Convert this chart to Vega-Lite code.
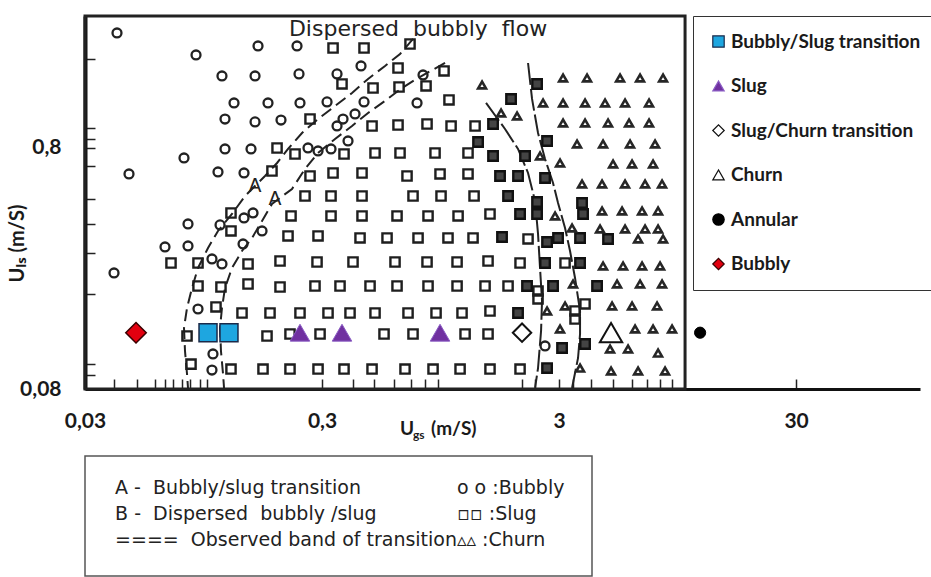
{
  "$schema": "https://vega.github.io/schema/vega-lite/v6.json",
  "autosize": {"type": "pad"},
  "padding": {"left": 7, "top": 14, "right": 0, "bottom": 0},
  "background": "white",
  "bounds": "flush",
  "spacing": 67,
  "config": {"view": {"stroke": null}},
  "datasets": {
    "circles": [{"ugs":0.04094,"uls":2.401},{"ugs":0.08821,"uls":1.945},{"ugs":0.1611,"uls":2.12},{"ugs":0.2353,"uls":2.12},{"ugs":0.1135,"uls":1.592},{"ugs":0.1565,"uls":1.592},{"ugs":0.2399,"uls":1.623},{"ugs":0.1276,"uls":1.23},{"ugs":0.1775,"uls":1.23},{"ugs":0.2422,"uls":1.23},{"ugs":0.315,"uls":1.242},{"ugs":0.1169,"uls":1.055},{"ugs":0.1565,"uls":1.026},{"ugs":0.2014,"uls":1.045},{"ugs":0.1169,"uls":0.7924},{"ugs":0.1505,"uls":0.7924},{"ugs":0.07849,"uls":0.7272},{"ugs":0.046,"uls":0.6242},{"ugs":0.1092,"uls":0.6362},{"ugs":0.1406,"uls":0.6301},{"ugs":0.4382,"uls":1.751},{"ugs":0.3471,"uls":1.623},{"ugs":0.4512,"uls":1.242},{"ugs":0.7551,"uls":1.23},{"ugs":0.4134,"uls":1.107},{"ugs":0.3679,"uls":1.055},{"ugs":0.3471,"uls":0.9872},{"ugs":0.3862,"uls":0.8554},{"ugs":0.2618,"uls":0.8001},{"ugs":0.2886,"uls":0.7775},{"ugs":0.3274,"uls":0.7924},{"ugs":0.8004,"uls":1.607},{"ugs":0.03977,"uls":0.2424},{"ugs":0.0816,"uls":0.3871},{"ugs":0.06526,"uls":0.3108},{"ugs":0.0816,"uls":0.3137},{"ugs":0.103,"uls":0.2771},{"ugs":0.1135,"uls":0.2641},{"ugs":0.1114,"uls":0.3835},{"ugs":0.1406,"uls":0.4099},{"ugs":0.1535,"uls":0.43},{"ugs":0.1393,"uls":0.3198},{"ugs":0.1675,"uls":0.3621},{"ugs":0.08993,"uls":0.1718},{"ugs":0.104,"uls":0.1118},{"ugs":0.103,"uls":0.0959},{"ugs":2.6185,"uls":0.1207}],
    "squares": [{"ugs":0.3339,"uls":2.08},{"ugs":0.4512,"uls":2.08},{"ugs":0.7053,"uls":2.161},
      {"ugs":0.6277,"uls":1.718},{"ugs":0.9815,"uls":1.67},
      {"ugs":0.3643,"uls":1.475},{"ugs":0.4924,"uls":1.419},{"ugs":0.6339,"uls":1.433},{"ugs":0.8241,"uls":1.447},
      {"ugs":1.03,"uls":1.266},
      {"ugs":0.267,"uls":1.055},{"ugs":0.4877,"uls":0.9872},{"ugs":0.6277,"uls":0.9967},{"ugs":0.8321,"uls":1.006},{"ugs":1.051,"uls":0.9872},{"ugs":1.327,"uls":0.9872},
      {"ugs":0.1938,"uls":0.8001},{"ugs":0.2308,"uls":0.7555},{"ugs":0.3715,"uls":0.7555},{"ugs":0.5021,"uls":0.7628},{"ugs":0.6401,"uls":0.7628},{"ugs":0.8994,"uls":0.7628},{"ugs":1.239,"uls":0.7628},
      {"ugs":0.1845,"uls":0.6423},{"ugs":0.267,"uls":0.6123},{"ugs":0.3339,"uls":0.6301},{"ugs":0.4425,"uls":0.6301},{"ugs":0.6851,"uls":0.6123},{"ugs":0.9441,"uls":0.6242},{"ugs":1.239,"uls":0.6242},
      {"ugs":0.2543,"uls":0.5058},{"ugs":0.3274,"uls":0.5058},{"ugs":0.4425,"uls":0.5058},{"ugs":0.7262,"uls":0.5058},{"ugs":0.9533,"uls":0.5058},{"ugs":1.314,"uls":0.5058},
      {"ugs":0.1239,"uls":0.43},{"ugs":0.222,"uls":0.4179},{"ugs":0.3274,"uls":0.4179},{"ugs":0.4425,"uls":0.4179},{"ugs":0.6217,"uls":0.4179},{"ugs":0.8402,"uls":0.4179},{"ugs":1.125,"uls":0.4179},{"ugs":1.534,"uls":0.4259},
      {"ugs":0.1239,"uls":0.3621},{"ugs":0.2156,"uls":0.3452},{"ugs":0.2886,"uls":0.3452},{"ugs":0.434,"uls":0.3387},{"ugs":0.5642,"uls":0.3387},{"ugs":0.7625,"uls":0.3387},{"ugs":1.02,"uls":0.3387},{"ugs":1.301,"uls":0.3387},{"ugs":2.22,"uls":0.3355},
      {"ugs":0.06918,"uls":0.2667},{"ugs":0.08993,"uls":0.2667},{"ugs":0.1462,"uls":0.2641},{"ugs":0.1995,"uls":0.2718},{"ugs":0.2858,"uls":0.2692},{"ugs":0.4054,"uls":0.2692},{"ugs":0.6097,"uls":0.2692},{"ugs":0.8321,"uls":0.2692},{"ugs":1.114,"uls":0.2692},{"ugs":1.505,"uls":0.2718},{"ugs":2.054,"uls":0.2667},{"ugs":3.18,"uls":0.2667},
      {"ugs":0.08993,"uls":0.214},{"ugs":0.1124,"uls":0.212},{"ugs":0.1462,"uls":0.2182},{"ugs":0.1995,"uls":0.212},{"ugs":0.2802,"uls":0.214},{"ugs":0.3573,"uls":0.214},{"ugs":0.4783,"uls":0.214},{"ugs":0.6217,"uls":0.214},{"ugs":0.8402,"uls":0.214},{"ugs":1.114,"uls":0.214},{"ugs":1.462,"uls":0.214},{"ugs":1.828,"uls":0.214},{"ugs":2.446,"uls":0.2041},{"ugs":2.446,"uls":0.1891},
      {"ugs":0.1071,"uls":0.1752},{"ugs":0.1379,"uls":0.1654},{"ugs":0.181,"uls":0.1654},{"ugs":0.2422,"uls":0.1654},{"ugs":0.318,"uls":0.1654},{"ugs":0.3938,"uls":0.1654},{"ugs":0.5021,"uls":0.1654},{"ugs":0.6918,"uls":0.1654},{"ugs":0.9082,"uls":0.1654},{"ugs":1.169,"uls":0.1654},{"ugs":1.534,"uls":0.1686},{"ugs":3.504,"uls":0.1686},{"ugs":3.504,"uls":0.1561},{"ugs":3.862,"uls":0.1803},
      {"ugs":0.08082,"uls":0.1327},{"ugs":0.1758,"uls":0.1327},{"ugs":0.2198,"uls":0.1353},{"ugs":0.2943,"uls":0.1353},{"ugs":0.5479,"uls":0.1353},{"ugs":0.7262,"uls":0.1353},{"ugs":1.204,"uls":0.1353},{"ugs":1.505,"uls":0.1353},
      {"ugs":0.08402,"uls":0.1015},{"ugs":0.1239,"uls":0.0968},{"ugs":0.1691,"uls":0.0968},{"ugs":0.2198,"uls":0.0968},{"ugs":0.2886,"uls":0.0968},{"ugs":0.3715,"uls":0.0968},{"ugs":0.4877,"uls":0.0968},{"ugs":0.6719,"uls":0.0968},{"ugs":0.8821,"uls":0.0968},{"ugs":1.147,"uls":0.0968},{"ugs":1.534,"uls":0.0968},{"ugs":2.054,"uls":0.0968}],
    "dense": [{"ugs":1.366,"uls":0.8473},{"ugs":2.423,"uls":1.475},{"ugs":1.882,"uls":1.278},{"ugs":1.58,"uls":1.006},{"ugs":2.67,"uls":0.8554},{"ugs":1.58,"uls":0.7412},{"ugs":2.156,"uls":0.7412},{"ugs":1.691,"uls":0.6123},{"ugs":2.014,"uls":0.6123},{"ugs":2.6185,"uls":0.6007},{"ugs":1.828,"uls":0.5058},{"ugs":2.423,"uls":0.4776},{"ugs":3.751,"uls":0.4731},{"ugs":2.054,"uls":0.4259},{"ugs":2.423,"uls":0.4259},{"ugs":3.788,"uls":0.4259},{"ugs":1.724,"uls":0.3419},{"ugs":2.67,"uls":0.326},{"ugs":2.971,"uls":0.3387},{"ugs":3.679,"uls":0.3387},{"ugs":4.829,"uls":0.3355},{"ugs":2.6185,"uls":0.2667},{"ugs":3.679,"uls":0.2667},{"ugs":2.198,"uls":0.214},{"ugs":2.83,"uls":0.214},{"ugs":4.34,"uls":0.214},{"ugs":2.014,"uls":0.1654},{"ugs":3.089,"uls":0.1184},{"ugs":3.862,"uls":0.123},{"ugs":2.67,"uls":0.0977}],
    "triangles": [{"ugs":3.119,"uls":1.562},{"ugs":3.938,"uls":1.562},{"ugs":5.426,"uls":1.562},{"ugs":6.59,"uls":1.562},{"ugs":8.24,"uls":1.562},
      {"ugs":1.42,"uls":1.461},
      {"ugs":2.568,"uls":1.23},{"ugs":3.119,"uls":1.23},{"ugs":3.862,"uls":1.23},{"ugs":4.69,"uls":1.23},{"ugs":5.696,"uls":1.23},{"ugs":7.192,"uls":1.23},
      {"ugs":1.708,"uls":1.118},{"ugs":1.995,"uls":1.086},
      {"ugs":3.119,"uls":1.016},{"ugs":3.862,"uls":1.016},{"ugs":4.829,"uls":1.016},{"ugs":5.922,"uls":1.016},{"ugs":7.192,"uls":1.016},
      {"ugs":3.573,"uls":0.8312},{"ugs":4.6,"uls":0.8312},{"ugs":5.98,"uls":0.8312},{"ugs":7.624,"uls":0.8312},
      {"ugs":2.494,"uls":0.7412},{"ugs":3.029,"uls":0.6932},{"ugs":5.07,"uls":0.6866},{"ugs":6.097,"uls":0.6866},{"ugs":7.477,"uls":0.6866},
      {"ugs":3.751,"uls":0.5673},{"ugs":4.556,"uls":0.5673},{"ugs":5.696,"uls":0.5673},{"ugs":6.918,"uls":0.5673},{"ugs":8.161,"uls":0.5673},
      {"ugs":4.556,"uls":0.4383},{"ugs":5.533,"uls":0.4383},{"ugs":6.72,"uls":0.4383},{"ugs":7.85,"uls":0.4383},{"ugs":2.886,"uls":0.4179},
      {"ugs":3.404,"uls":0.3726},{"ugs":4.468,"uls":0.3691},{"ugs":5.696,"uls":0.3691},{"ugs":6.918,"uls":0.3691},{"ugs":7.85,"uls":0.3691},
      {"ugs":6.464,"uls":0.3355},{"ugs":8.24,"uls":0.3355},
      {"ugs":4.6,"uls":0.2591},{"ugs":5.587,"uls":0.2591},{"ugs":6.72,"uls":0.2591},{"ugs":8.004,"uls":0.2591},
      {"ugs":3.437,"uls":0.2182},{"ugs":5.271,"uls":0.2182},{"ugs":6.59,"uls":0.2182},{"ugs":8.161,"uls":0.2182},
      {"ugs":3.18,"uls":0.1768},{"ugs":5.021,"uls":0.1768},{"ugs":6.097,"uls":0.1768},{"ugs":7.774,"uls":0.1768},{"ugs":2.67,"uls":0.1686},
      {"ugs":3.029,"uls":0.1419},{"ugs":6.278,"uls":0.1419},{"ugs":7.477,"uls":0.1419},{"ugs":8.993,"uls":0.1419},
      {"ugs":4.924,"uls":0.1173},{"ugs":5.865,"uls":0.1173},{"ugs":7.85,"uls":0.1128},
      {"ugs":3.679,"uls":0.0977},{"ugs":4.972,"uls":0.095},{"ugs":6.464,"uls":0.095},{"ugs":8.402,"uls":0.095}],
    "bands": [
      {"curve":"B1","i":0,"ugs":0.7262,"uls":2.267},{"curve":"B1","i":1,"ugs":0.6401,"uls":1.964},{"curve":"B1","i":2,"ugs":0.5533,"uls":1.751},{"curve":"B1","i":3,"ugs":0.4691,"uls":1.547},{"curve":"B1","i":4,"ugs":0.4015,"uls":1.353},{"curve":"B1","i":5,"ugs":0.3404,"uls":1.195},{"curve":"B1","i":6,"ugs":0.2886,"uls":1.055},{"curve":"B1","i":7,"ugs":0.247,"uls":0.9233},{"curve":"B1","i":8,"ugs":0.2156,"uls":0.7924},{"curve":"B1","i":9,"ugs":0.1938,"uls":0.6932},{"curve":"B1","i":10,"ugs":0.1724,"uls":0.6123},{"curve":"B1","i":11,"ugs":0.142,"uls":0.5058},{"curve":"B1","i":12,"ugs":0.1251,"uls":0.4259},{"curve":"B1","i":13,"ugs":0.1092,"uls":0.3621},{"curve":"B1","i":14,"ugs":0.09911,"uls":0.3078},{"curve":"B1","i":15,"ugs":0.08993,"uls":0.2542},{"curve":"B1","i":16,"ugs":0.08484,"uls":0.21},{"curve":"B1","i":17,"ugs":0.08082,"uls":0.1735},{"curve":"B1","i":18,"ugs":0.07849,"uls":0.1433},{"curve":"B1","i":19,"ugs":0.07926,"uls":0.115},{"curve":"B1","i":20,"ugs":0.08082,"uls":0.0923},{"curve":"B1","i":21,"ugs":0.0816,"uls":0.0808},
      {"curve":"B2","i":0,"ugs":0.9911,"uls":1.802},{"curve":"B2","i":1,"ugs":0.7625,"uls":1.562},{"curve":"B2","i":2,"ugs":0.6526,"uls":1.419},{"curve":"B2","i":3,"ugs":0.5533,"uls":1.254},{"curve":"B2","i":4,"ugs":0.4691,"uls":1.118},{"curve":"B2","i":5,"ugs":0.4015,"uls":0.9872},{"curve":"B2","i":6,"ugs":0.3404,"uls":0.8718},{"curve":"B2","i":7,"ugs":0.2886,"uls":0.7628},{"curve":"B2","i":8,"ugs":0.2543,"uls":0.6546},{"curve":"B2","i":9,"ugs":0.2241,"uls":0.5408},{"curve":"B2","i":10,"ugs":0.1845,"uls":0.4686},{"curve":"B2","i":11,"ugs":0.1675,"uls":0.3984},{"curve":"B2","i":12,"ugs":0.152,"uls":0.3387},{"curve":"B2","i":13,"ugs":0.1379,"uls":0.2991},{"curve":"B2","i":14,"ugs":0.1251,"uls":0.2542},{"curve":"B2","i":15,"ugs":0.1169,"uls":0.21},{"curve":"B2","i":16,"ugs":0.1135,"uls":0.1735},{"curve":"B2","i":17,"ugs":0.1114,"uls":0.1433},{"curve":"B2","i":18,"ugs":0.1124,"uls":0.115},{"curve":"B2","i":19,"ugs":0.1147,"uls":0.0923},{"curve":"B2","i":20,"ugs":0.1158,"uls":0.0808},
      {"curve":"B3","i":0,"ugs":1.476,"uls":1.23},{"curve":"B3","i":1,"ugs":1.775,"uls":0.9593},{"curve":"B3","i":2,"ugs":2.014,"uls":0.7924},{"curve":"B3","i":3,"ugs":2.22,"uls":0.6301},{"curve":"B3","i":4,"ugs":2.376,"uls":0.4822},{"curve":"B3","i":5,"ugs":2.446,"uls":0.3519},{"curve":"B3","i":6,"ugs":2.494,"uls":0.2542},{"curve":"B3","i":7,"ugs":2.543,"uls":0.1855},{"curve":"B3","i":8,"ugs":2.519,"uls":0.1392},{"curve":"B3","i":9,"ugs":2.446,"uls":0.0977},{"curve":"B3","i":10,"ugs":2.376,"uls":0.0808},
      {"curve":"B4","i":0,"ugs":2.22,"uls":1.802},{"curve":"B4","i":1,"ugs":2.308,"uls":1.278},{"curve":"B4","i":2,"ugs":2.446,"uls":0.9233},{"curve":"B4","i":3,"ugs":2.6185,"uls":0.7203},{"curve":"B4","i":4,"ugs":2.83,"uls":0.5727},{"curve":"B4","i":5,"ugs":2.971,"uls":0.4731},{"curve":"B4","i":6,"ugs":3.18,"uls":0.3726},{"curve":"B4","i":7,"ugs":3.338,"uls":0.2991},{"curve":"B4","i":8,"ugs":3.504,"uls":0.2311},{"curve":"B4","i":9,"ugs":3.679,"uls":0.1686},{"curve":"B4","i":10,"ugs":3.679,"uls":0.1353},{"curve":"B4","i":11,"ugs":3.608,"uls":0.1076},{"curve":"B4","i":12,"ugs":3.404,"uls":0.0808}
    ],
    "bandLabels": [{"ugs":0.1565,"uls":0.5566,"label":"A"},{"ugs":0.19,"uls":0.4915,"label":"A"}],
    "mapExtent": [{"ugs":0.03,"ugs_end":10.204,"uls":0.08,"uls_end":2.823}],
    "regionNotes": [{"ugs":0.7625,"uls":2.494,"note":"Dispersed\u00a0\u00a0bubbly\u00a0\u00a0flow"}],
    "xTitleAnchor": [{"ugs":0.6401,"uls":0.08}],
    "regimes": [
      {"regime":"Bubbly","ugs":0.04924,"uls":0.137},
      {"regime":"Bubbly/Slug transition","ugs":0.09911,"uls":0.137},
      {"regime":"Bubbly/Slug transition","ugs":0.1215,"uls":0.137},
      {"regime":"Slug","ugs":0.2422,"uls":0.137},
      {"regime":"Slug","ugs":0.3643,"uls":0.137},
      {"regime":"Slug","ugs":0.9441,"uls":0.137},
      {"regime":"Slug/Churn transition","ugs":2.094,"uls":0.137},
      {"regime":"Churn","ugs":4.972,"uls":0.137},
      {"regime":"Annular","ugs":11.81,"uls":0.137}
    ],
    "key": [
      {"col":0,"line":1,"text":"A -\u00a0 Bubbly/slug transition"},
      {"col":0,"line":2,"text":"B -\u00a0 Dispersed\u00a0 bubbly /slug"},
      {"col":0,"line":3,"text":"====\u00a0 Observed band of transition"},
      {"col":1,"line":1,"text":"o o :Bubbly"},
      {"col":1,"line":2,"text":"\u25ab\u25ab :Slug"},
      {"col":1,"line":3,"text":"\u25b5\u25b5 :Churn"}
    ]
  },
  "vconcat": [
    {
      "width": 835,
      "height": 373,
      "encoding": {
        "x": {
          "field": "ugs", "type": "quantitative",
          "scale": {"type": "log", "domain": [0.03, 100], "nice": false},
          "axis": {
            "values": [0.03,0.03977,0.04972,0.05922,0.06526,0.07053,0.07698,0.0832,0.0917,0.09815,0.3,0.4054,0.4972,0.6039,0.7122,0.8161,0.926,2.0942,2.3761,3,3.437,4.0939,5.0695,6.0973,7.054,8.0038,8.9932,30],
            "labelExpr": "datum.value == 0.03 ? '0,03' : datum.value == 0.3 ? '0,3' : datum.value == 3 ? '3' : datum.value == 30 ? '30' : ''",
            "labelOverlap": false, "labelFlush": false, "labelBound": false,
            "labelFont": "Lato, Open Sans, sans-serif",
            "labelFontSize": 21, "labelFontWeight": "bold", "labelColor": "#1a1a1a",
            "labelBaseline": "middle", "labelPadding": 42,
            "title": null, "grid": false,
            "tickSize": -10, "tickWidth": 1.5, "tickColor": "#222",
            "domainWidth": 3, "domainColor": "#111"
          }
        },
        "y": {
          "field": "uls", "type": "quantitative",
          "scale": {"type": "log", "domain": [0.08, 2.823], "nice": false},
          "axis": {
            "values": [0.08,0.0914,0.1015,0.1983,0.2934,0.3871,0.4915,0.6736,0.8,0.8718,0.9685,1.8724],
            "labelExpr": "datum.value == 0.8 ? '0,8' : datum.value == 0.08 ? '0,08' : ''",
            "labelOverlap": false, "labelFlush": false,
            "labelFont": "Lato, Open Sans, sans-serif",
            "labelFontSize": 21, "labelFontWeight": "bold", "labelColor": "#1a1a1a",
            "labelPadding": 34,
            "grid": false, "tickSize": -10, "tickWidth": 1.5, "tickColor": "#222",
            "domainWidth": 4, "domainColor": "#111",
            "title": "U\u2097\u209b (m/S)",
            "titleFont": "Lato, Open Sans, sans-serif",
            "titleFontSize": 20, "titleFontWeight": "bold", "titleColor": "#1a1a1a",
            "titleX": -68, "titleY": 227, "titleBaseline": "middle", "titleAngle": 270
          }
        }
      },
      "layer": [
        {
          "data": {"name": "mapExtent"},
          "mark": {"type": "rect", "fill": null, "fillOpacity": 0, "stroke": "#222", "strokeWidth": 3},
          "encoding": {"x2": {"field": "ugs_end"}, "y2": {"field": "uls_end"}}
        },
        {
          "data": {"name": "bands"},
          "mark": {"type": "line", "strokeWidth": 2, "color": "#222"},
          "encoding": {
            "order": {"field": "i", "type": "quantitative"},
            "strokeDash": {
              "field": "curve", "type": "nominal", "legend": null,
              "scale": {"domain": ["B1","B2","B3","B4"], "range": [[12,6],[12,6],[22,4],[22,4]]}
            }
          }
        },
        {
          "data": {"name": "circles"},
          "mark": {"type": "point", "shape": "circle", "filled": false, "size": 80, "strokeWidth": 2.3, "color": "#222", "opacity": 1}
        },
        {
          "data": {"name": "squares"},
          "mark": {"type": "point", "shape": "square", "filled": false, "size": 85, "strokeWidth": 2.4, "color": "#1e1e1e", "opacity": 1}
        },
        {
          "data": {"name": "dense"},
          "mark": {"type": "point", "shape": "square", "filled": true, "size": 90, "fill": "#444", "stroke": "#111", "strokeWidth": 2.4, "opacity": 1}
        },
        {
          "data": {"name": "triangles"},
          "mark": {"type": "point", "shape": "triangle-up", "filled": false, "size": 62, "strokeWidth": 2.6, "color": "#262626", "opacity": 1}
        },
        {
          "data": {"name": "bandLabels"},
          "mark": {"type": "text", "font": "DejaVu Sans", "fontSize": 19, "color": "#222", "baseline": "middle"},
          "encoding": {"text": {"field": "label"}}
        },
        {
          "data": {"name": "regionNotes"},
          "mark": {"type": "text", "font": "DejaVu Sans", "fontSize": 22, "color": "#222", "baseline": "middle", "align": "center"},
          "encoding": {"text": {"field": "note"}}
        },
        {
          "data": {"name": "xTitleAnchor"},
          "mark": {"type": "text", "text": "U", "align": "left", "baseline": "middle", "dy": 40, "font": "Lato, Open Sans, sans-serif", "fontSize": 19, "fontWeight": "bold", "color": "#1a1a1a"}
        },
        {
          "data": {"name": "xTitleAnchor"},
          "mark": {"type": "text", "text": "gs", "align": "left", "baseline": "middle", "dx": 13, "dy": 46, "font": "Lato, Open Sans, sans-serif", "fontSize": 12, "fontWeight": "bold", "color": "#1a1a1a"}
        },
        {
          "data": {"name": "xTitleAnchor"},
          "mark": {"type": "text", "text": "(m/S)", "align": "left", "baseline": "middle", "dx": 31, "dy": 40, "font": "Lato, Open Sans, sans-serif", "fontSize": 19, "fontWeight": "bold", "color": "#1a1a1a"}
        },
        {
          "data": {"name": "regimes"},
          "encoding": {
            "shape": {
              "field": "regime", "type": "nominal",
              "scale": {"domain": ["Bubbly/Slug transition","Slug","Slug/Churn transition","Churn","Annular","Bubbly"], "range": ["square","triangle-up","diamond","triangle-up","circle","diamond"]},
              "legend": {"title": null, "orient": "none", "legendX": 608, "legendY": 0, "padding": 16, "rowPadding": 24.5, "labelFont": "Lato, Open Sans, sans-serif", "labelFontSize": 19, "labelFontWeight": "bold", "labelColor": "#1a1a1a", "symbolSize": 130, "symbolStrokeWidth": 1.2, "labelOffset": 3, "strokeColor": "#333", "labelLimit": 320}
            },
            "fill": {
              "field": "regime", "type": "nominal",
              "scale": {"domain": ["Bubbly/Slug transition","Slug","Slug/Churn transition","Churn","Annular","Bubbly"], "range": ["#1ea6e0","#7030a0","#ffffff","#ffffff","#000000","#e3000f"]},
              "legend": {"title": null, "orient": "none", "legendX": 608, "legendY": 0, "padding": 16, "rowPadding": 24.5, "labelFont": "Lato, Open Sans, sans-serif", "labelFontSize": 19, "labelFontWeight": "bold", "labelColor": "#1a1a1a", "symbolSize": 130, "symbolStrokeWidth": 1.2, "labelOffset": 3, "strokeColor": "#333", "labelLimit": 320}
            },
            "stroke": {
              "field": "regime", "type": "nominal",
              "scale": {"domain": ["Bubbly/Slug transition","Slug","Slug/Churn transition","Churn","Annular","Bubbly"], "range": ["#1b2a4a","#8a5cc4","#111111","#111111","#000000","#3a0000"]},
              "legend": {"title": null, "orient": "none", "legendX": 608, "legendY": 0, "padding": 16, "rowPadding": 24.5, "labelFont": "Lato, Open Sans, sans-serif", "labelFontSize": 19, "labelFontWeight": "bold", "labelColor": "#1a1a1a", "symbolSize": 130, "symbolStrokeWidth": 1.2, "labelOffset": 3, "strokeColor": "#333", "labelLimit": 320}
            }
          },
          "layer": [
            {"transform": [{"filter": "datum.regime == 'Bubbly/Slug transition'"}], "mark": {"type": "point", "filled": true, "size": 324, "strokeWidth": 1.5, "opacity": 1}},
            {"transform": [{"filter": "datum.regime == 'Slug'"}], "mark": {"type": "point", "filled": true, "size": 380, "strokeWidth": 1, "opacity": 1}},
            {"transform": [{"filter": "datum.regime == 'Slug/Churn transition'"}], "mark": {"type": "point", "filled": true, "size": 340, "strokeWidth": 2, "opacity": 1}},
            {"transform": [{"filter": "datum.regime == 'Churn'"}], "mark": {"type": "point", "filled": true, "size": 500, "strokeWidth": 2, "opacity": 1}},
            {"transform": [{"filter": "datum.regime == 'Annular'"}], "mark": {"type": "point", "filled": true, "size": 125, "strokeWidth": 1, "opacity": 1}},
            {"transform": [{"filter": "datum.regime == 'Bubbly'"}], "mark": {"type": "point", "filled": true, "size": 420, "strokeWidth": 1.5, "opacity": 1}}
          ]
        }
      ]
    },
    {
      "width": 507,
      "height": 120,
      "view": {"stroke": "#555", "strokeWidth": 1.5},
      "data": {"name": "key"},
      "mark": {"type": "text", "align": "left", "baseline": "middle", "font": "DejaVu Sans", "fontSize": 19, "color": "#222"},
      "encoding": {
        "x": {"field": "col", "type": "quantitative", "scale": {"domain": [-0.088, 1.395], "nice": false, "zero": false}, "axis": null},
        "y": {"field": "line", "type": "quantitative", "scale": {"domain": [-0.27, 4.42], "reverse": true, "nice": false, "zero": false}, "axis": null},
        "text": {"field": "text"}
      }
    }
  ]
}
